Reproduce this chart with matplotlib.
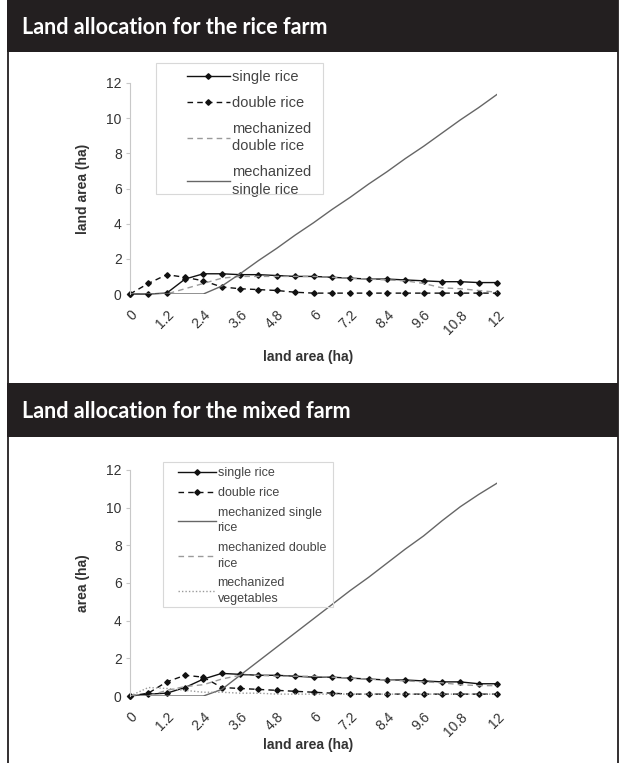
import matplotlib
matplotlib.use("Agg")
import matplotlib.pyplot as plt
from matplotlib.patches import Rectangle
from matplotlib.lines import Line2D

W, H = 621, 763

# categories on the x axis (land area, ha)
farm_size = [0, 0.6, 1.2, 1.8, 2.4, 3.0, 3.6, 4.2, 4.8, 5.4, 6.0,
             6.6, 7.2, 7.8, 8.4, 9.0, 9.6, 10.2, 10.8, 11.4, 12.0]
tick_pos = [0, 1.2, 2.4, 3.6, 4.8, 6.0, 7.2, 8.4, 9.6, 10.8, 12.0]
tick_lbl = ['0', '1.2', '2.4', '3.6', '4.8', '6', '7.2', '8.4', '9.6', '10.8', '12']

# rice farm
rice_single = [0, 0, 0.05, 0.85, 1.15, 1.15, 1.1, 1.1, 1.05, 1.0, 1.0,
               0.95, 0.9, 0.85, 0.85, 0.8, 0.75, 0.7, 0.7, 0.65, 0.65]
rice_double = [0, 0.6, 1.1, 0.95, 0.75, 0.4, 0.3, 0.25, 0.2, 0.1, 0.05,
               0.05, 0.05, 0.05, 0.05, 0.05, 0.05, 0.05, 0.05, 0.05, 0.05]
rice_mech_double = [0, 0, 0, 0.3, 0.6, 0.9, 1.0, 1.0, 1.0, 1.0, 1.0,
                    0.95, 0.9, 0.85, 0.8, 0.75, 0.6, 0.35, 0.3, 0.2, 0.1]
rice_mech_single = [0, 0, 0, 0, 0, 0.45, 1.15, 1.9, 2.6, 3.35, 4.05,
                    4.8, 5.5, 6.25, 6.95, 7.7, 8.4, 9.15, 9.9, 10.6, 11.35]

# mixed farm
mix_single = [0, 0.1, 0.15, 0.45, 0.9, 1.2, 1.15, 1.1, 1.1, 1.05, 1.0,
              1.0, 0.95, 0.9, 0.85, 0.85, 0.8, 0.75, 0.75, 0.65, 0.65]
mix_double = [0, 0.15, 0.75, 1.1, 1.0, 0.45, 0.4, 0.35, 0.3, 0.25, 0.2,
              0.15, 0.1, 0.1, 0.1, 0.1, 0.1, 0.1, 0.1, 0.1, 0.1]
mix_mech_single = [0, 0, 0, 0, 0, 0.35, 1.1, 1.85, 2.6, 3.35, 4.1,
                   4.85, 5.6, 6.3, 7.05, 7.8, 8.5, 9.3, 10.05, 10.7, 11.3]
mix_mech_double = [0, 0, 0.3, 0.5, 0.6, 0.9, 1.1, 1.1, 1.05, 1.05, 1.05,
                   1.0, 0.95, 0.9, 0.85, 0.8, 0.75, 0.7, 0.6, 0.55, 0.55]
mix_mech_veg = [0, 0.45, 0.4, 0.3, 0.2, 0.2, 0.15, 0.15, 0.1, 0.1, 0.1,
                0.1, 0.1, 0.1, 0.1, 0.1, 0.1, 0.1, 0.1, 0.1, 0.1]

chart_font = ['Liberation Sans', 'DejaVu Sans']
head_font = ['Lato', 'DejaVu Sans']
DARK = '#231f20'
FS = 10


def box(x0, y0, x1, y1):
    # pixel box (top-left origin) -> figure fraction rect
    return [x0 / W, 1 - y1 / H, (x1 - x0) / W, (y1 - y0) / H]


fig = plt.figure(figsize=(W / 100, H / 100), dpi=100)
fig.patch.set_facecolor('white')

# header bars and panel borders
for y0, y1, title in [(0, 52, 'Land allocation for the rice farm'),
                      (383, 437, 'Land allocation for the mixed farm')]:
    r = box(7, y0, 618, y1)
    fig.patches.append(Rectangle((r[0], r[1]), r[2], r[3], transform=fig.transFigure,
                                 facecolor=DARK, edgecolor='none', zorder=0))
    fig.text(22 / W, 1 - ((y0 + y1) / 2 + 1) / H, title, color='white', fontsize=15.5,
             fontweight='bold', family=head_font, va='center', ha='left')
for x in (7.5, 617.5):
    fig.add_artist(Line2D([x / W, x / W], [0, 1], color=DARK, lw=1.3,
                          transform=fig.transFigure))


def style_axes(ax, ylabel):
    ax.set_xlim(0, 12)
    ax.set_ylim(0, 12)
    ax.set_yticks(range(0, 13, 2))
    ax.set_xticks(tick_pos)
    ax.set_xticklabels(tick_lbl, rotation=45, ha='right', rotation_mode='anchor')
    for s in ('top', 'right', 'bottom'):
        ax.spines[s].set_visible(False)
    ax.spines['left'].set_color('#c8c8c8')
    ax.spines['left'].set_linewidth(0.8)
    ax.tick_params(axis='y', colors='#c8c8c8', labelcolor='#333333', length=3,
                   labelsize=FS, pad=3)
    ax.tick_params(axis='x', length=0, labelcolor='#333333', labelsize=FS, pad=10)
    for t in ax.get_xticklabels() + ax.get_yticklabels():
        t.set_family(chart_font)
    ax.set_ylabel(ylabel, fontsize=FS, fontweight='bold', family=chart_font,
                  color='#333333', labelpad=12)


def legend_box(x0, y0, x1, y1):
    r = box(x0, y0, x1, y1)
    fig.patches.append(Rectangle((r[0], r[1]), r[2], r[3], transform=fig.transFigure,
                                 facecolor='none', edgecolor='#d8d8d8', lw=0.8))


def put_legend(ax, x, y, size, hl, sp, lsp):
    leg = ax.legend(loc='upper left', bbox_to_anchor=(x / W, 1 - y / H),
                    bbox_transform=fig.transFigure, frameon=False, handlelength=hl,
                    handletextpad=0.15, labelspacing=sp, borderpad=0,
                    prop={'family': chart_font, 'size': size}, labelcolor='#444444')
    for t in leg.get_texts():
        t.set_linespacing(lsp)


mk = dict(marker='D', markersize=2.8, clip_on=False)

# ---- rice farm ----
ax1 = fig.add_axes(box(130, 83, 497, 294))
ax1.plot(farm_size, rice_single, color='#111111', lw=1.0, label='single rice', **mk)
ax1.plot(farm_size, rice_double, color='#111111', lw=1.0, ls=(0, (4, 3)),
         label='double rice', **mk)
ax1.plot(farm_size, rice_mech_double, color='#9a9a9a', lw=1.0, ls=(0, (4, 3)),
         label='mechanized\ndouble rice')
ax1.plot(farm_size, rice_mech_single, color='#666666', lw=1.0,
         label='mechanized\nsingle rice')
style_axes(ax1, 'land area (ha)')
fig.text(308 / W, 1 - 357 / H, 'land area (ha)', fontsize=FS, fontweight='bold',
         family=chart_font, color='#333333', ha='center', va='center')
legend_box(156, 63, 323, 194)
put_legend(ax1, 180, 63, 10.5, 2.9, 0.8, 1.35)

# ---- mixed farm ----
ax2 = fig.add_axes(box(130, 470, 497, 696))
ax2.plot(farm_size, mix_single, color='#111111', lw=1.0, label='single rice', **mk)
ax2.plot(farm_size, mix_double, color='#111111', lw=1.0, ls=(0, (4, 3)),
         label='double rice', **mk)
ax2.plot(farm_size, mix_mech_single, color='#666666', lw=1.0,
         label='mechanized single\nrice')
ax2.plot(farm_size, mix_mech_double, color='#9a9a9a', lw=1.0, ls=(0, (4, 3)),
         label='mechanized double\nrice')
ax2.plot(farm_size, mix_mech_veg, color='#9a9a9a', lw=1.0, ls=(0, (1, 1.5)),
         label='mechanized\nvegetables')
style_axes(ax2, 'area (ha)')
fig.text(308 / W, 1 - 745 / H, 'land area (ha)', fontsize=FS, fontweight='bold',
         family=chart_font, color='#333333', ha='center', va='center')
legend_box(163, 462, 333, 607)
put_legend(ax2, 172, 461, 9, 3.0, 0.62, 1.4)

fig.savefig('out.png', dpi=100)
